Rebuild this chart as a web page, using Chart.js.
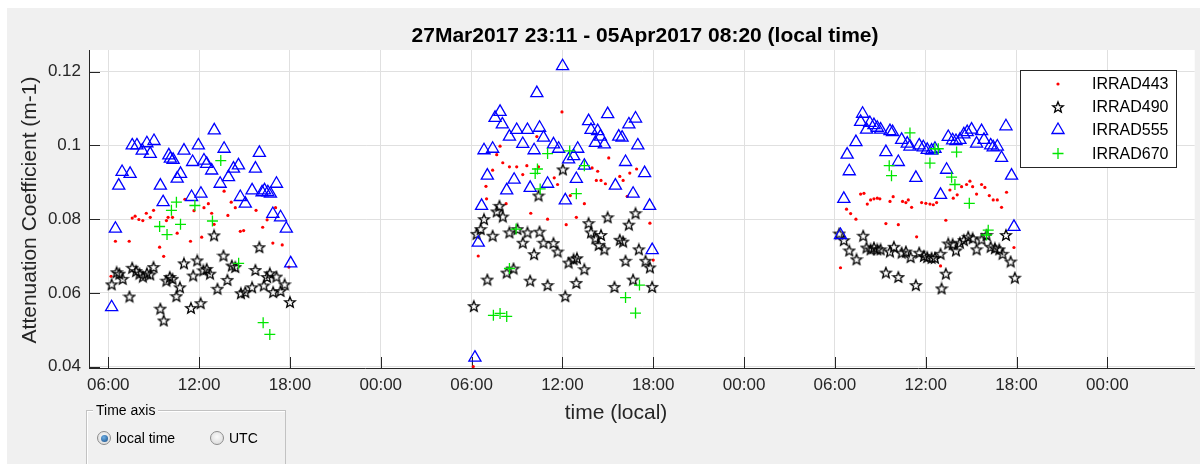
<!DOCTYPE html>
<html>
<head>
<meta charset="utf-8">
<script src="https://cdn.jsdelivr.net/npm/chart.js@4.4.1/dist/chart.umd.min.js"></script>
<style>
  html, body { margin: 0; padding: 0; background: #fff; }
  #wrap { position: relative; width: 1203px; height: 464px; overflow: hidden; }
  #chart { position: absolute; left: 0; top: 0; }
  #panel {
    position: absolute; left: 86px; top: 410px; width: 198px; height: 80px;
    border: 1px solid #c2c2c2; box-shadow: inset 1px 1px 0 #fff;
    font-family: 'Liberation Sans', Arial, sans-serif; font-size: 14px; color: #000;
  }
  #panel .cap { position: absolute; left: 6px; top: -9px; background: #f0f0f0; padding: 0 3px; line-height: 16px; }
  #panel .opt { position: absolute; top: 19px; line-height: 16px; }
  #panel .radio {
    position: absolute; top: 1px; left: 0; width: 12px; height: 12px; border-radius: 50%;
    border: 1px solid #8c8c8c; background: radial-gradient(circle at 50% 40%, #fafafa, #d6d6d6);
  }
  #panel .radio.on::after {
    content: ''; position: absolute; left: 2.5px; top: 2.5px; width: 7px; height: 7px; border-radius: 50%;
    background: radial-gradient(circle at 40% 35%, #6fb0e6, #134a85);
  }
  #panel .txt { position: absolute; left: 19px; top: 0; white-space: nowrap; }
</style>
</head>
<body>
<div id="wrap">
  <canvas id="chart" width="1203" height="464"></canvas>
  <div id="panel">
    <span class="cap">Time axis</span>
    <div class="opt" style="left:10px"><span class="radio on"></span><span class="txt">local time</span></div>
    <div class="opt" style="left:123px"><span class="radio"></span><span class="txt">UTC</span></div>
  </div>
</div>
<script>
  // hours counted from 00:00 of the first day shown
  const xTickHours = [6, 12, 18, 24, 30, 36, 42, 48, 54, 60, 66, 72];
  const yTickValues = [0.04, 0.06, 0.08, 0.1, 0.12];
  const titleText = '27Mar2017 23:11 - 05Apr2017 08:20 (local time)';
  const xLabel = 'time (local)';
  const yLabel = 'Attenuation Coefficient (m-1)';

  const irrad443 = [
    [6.18,0.0645],[6.47,0.074],[7.38,0.074],[7.58,0.0803],[7.77,0.0808],[8.02,0.0799],[8.28,0.0796],[8.51,0.0816],
    [8.77,0.0805],[8.99,0.0824],[9.39,0.0724],[9.66,0.0699],[9.84,0.0796],[9.95,0.0805],[10.24,0.0805],[10.55,0.0762],
    [11.06,0.0854],[11.43,0.074],[11.66,0.0823],[12.17,0.0751],[12.32,0.0831],[12.61,0.0842],[12.83,0.0816],[12.99,0.0786],
    [13.65,0.0876],[13.9,0.081],[14.12,0.0846],[14.39,0.0831],[14.72,0.0767],[14.94,0.0769],[15.76,0.0824],[16.2,0.0778],
    [16.49,0.0798],[16.87,0.0735],[17.05,0.0831],[17.49,0.073],[17.93,0.067],
    [30.11,0.04],[30.44,0.07],[30.95,0.0889],[30.99,0.0855],[31.39,0.0933],[31.66,0.0975],[31.88,0.0998],[32.06,0.0953],
    [32.28,0.0842],[32.5,0.0942],[32.98,0.0942],[33.38,0.0921],[33.65,0.0945],[33.91,0.0816],[34.31,0.1024],[34.42,0.0942],
    [35.02,0.08],[35.46,0.0912],[35.68,0.0894],[35.97,0.1091],[36.25,0.0785],[36.52,0.0864],[36.92,0.0805],[37.45,0.0842],
    [37.96,0.0939],[38.24,0.0905],[38.33,0.093],[38.55,0.0905],[38.84,0.0896],[39.06,0.0966],[39.79,0.0916],[40.01,0.0905],
    [40.28,0.0862],[40.45,0.0925],[40.9,0.0936],[41.78,0.0789],[42.0,0.0689],
    [54.37,0.0668],[54.77,0.0827],[55.04,0.0815],[55.39,0.08],[55.7,0.0868],[55.92,0.087],[56.14,0.0841],[56.36,0.0852],
    [56.58,0.0855],[56.8,0.0857],[56.97,0.0855],[57.37,0.0788],[57.64,0.0848],[57.85,0.0861],[58.19,0.0785],[58.47,0.0848],
    [58.69,0.0845],[58.85,0.0852],[59.07,0.0832],[59.4,0.0752],[59.73,0.0845],[60.01,0.0843],[60.28,0.0841],[60.5,0.0839],
    [60.72,0.0845],[60.98,0.0673],[61.33,0.0797],[61.6,0.0879],[61.82,0.0857],[62.08,0.0866],[62.37,0.0888],[62.7,0.0894],
    [62.92,0.0903],[63.1,0.0888],[63.36,0.0868],[63.69,0.0894],[63.91,0.0886],[64.2,0.0864],[64.46,0.0852],[64.73,0.0852],
    [65.01,0.0832],[65.34,0.0873],[65.83,0.0723]
  ];

  const irrad490 = [
    [6.22,0.0623],[6.55,0.0656],[6.73,0.0652],[6.95,0.0638],[7.4,0.059],[7.58,0.0668],[7.84,0.0659],[8.06,0.0652],
    [8.28,0.0644],[8.55,0.0653],[8.77,0.065],[8.99,0.067],[9.44,0.0557],[9.66,0.0525],[9.84,0.0633],[10.06,0.0643],
    [10.24,0.0638],[10.5,0.0591],[10.73,0.0615],[11.0,0.068],[11.46,0.0559],[11.61,0.0647],[11.88,0.0688],[12.1,0.0572],
    [12.28,0.0661],[12.5,0.0665],[12.72,0.0652],[12.99,0.0756],[13.21,0.0611],[13.61,0.0701],[13.87,0.0635],[14.16,0.0674],
    [14.39,0.067],[14.76,0.0599],[15.05,0.0602],[15.5,0.0615],[15.72,0.0662],[15.98,0.0724],[16.27,0.062],[16.49,0.0643],
    [16.67,0.0653],[16.89,0.0602],[17.11,0.0644],[17.38,0.0605],[17.65,0.0623],[18.0,0.0575],
    [30.15,0.0564],[30.33,0.076],[30.6,0.0773],[30.82,0.08],[31.04,0.0636],[31.39,0.0755],[31.66,0.0821],[31.84,0.0836],
    [32.06,0.0807],[32.32,0.0655],[32.5,0.0764],[32.77,0.0666],[33.03,0.0773],[33.38,0.0736],[33.69,0.0764],[33.87,0.0633],
    [34.13,0.0705],[34.42,0.0864],[34.49,0.0766],[34.75,0.0736],[35.02,0.0621],[35.41,0.0735],[35.68,0.0712],[36.03,0.0935],
    [36.19,0.0591],[36.41,0.0682],[36.74,0.0691],[36.92,0.0627],[36.96,0.0694],[37.45,0.0664],[37.73,0.0789],[37.89,0.0764],
    [38.18,0.0748],[38.4,0.073],[38.55,0.0757],[38.77,0.0718],[38.99,0.0805],[39.44,0.0616],[39.79,0.0744],[40.01,0.0739],
    [40.17,0.0687],[40.39,0.0785],[40.67,0.0636],[40.83,0.0816],[41.05,0.0718],[41.49,0.0687],[41.78,0.0669],[41.93,0.0616],
    [54.29,0.0761],[54.59,0.0743],[54.95,0.0715],[55.43,0.0691],[55.87,0.0755],[56.09,0.0723],[56.36,0.0718],[56.58,0.0723],
    [56.8,0.0718],[57.02,0.0718],[57.37,0.0655],[57.64,0.0712],[57.9,0.0725],[58.19,0.0643],[58.41,0.0709],[58.69,0.0712],
    [59.0,0.0697],[59.35,0.0621],[59.57,0.0709],[59.88,0.07],[60.1,0.0697],[60.39,0.0695],[60.61,0.0695],[60.98,0.0706],
    [61.05,0.0612],[61.33,0.0652],[61.49,0.0734],[61.78,0.0732],[62.0,0.0715],[62.26,0.0736],[62.52,0.0743],[62.81,0.0752],
    [63.1,0.0748],[63.36,0.0718],[63.69,0.0745],[64.02,0.0757],[64.29,0.0725],[64.57,0.0721],[64.86,0.0718],[65.08,0.0706],
    [65.3,0.0757],[65.61,0.0685],[65.89,0.0641]
  ];

  const irrad555 = [
    [6.22,0.0561],[6.47,0.0774],[6.69,0.0891],[6.91,0.0928],[7.44,0.0923],[7.58,0.1],[7.89,0.1],[8.24,0.0986],
    [8.55,0.1006],[8.77,0.0977],[9.02,0.1012],[9.44,0.0891],[9.62,0.0846],[10.0,0.0973],[10.1,0.0964],[10.28,0.0961],
    [10.55,0.091],[10.77,0.0923],[11.0,0.0986],[11.5,0.086],[11.57,0.0955],[11.95,0.1],[12.12,0.0869],[12.32,0.0959],
    [12.5,0.095],[12.83,0.0932],[13.0,0.1041],[13.39,0.0896],[13.65,0.0991],[13.94,0.0914],[14.27,0.0937],[14.6,0.0946],
    [14.72,0.086],[15.05,0.0842],[15.5,0.0878],[15.72,0.0937],[15.98,0.098],[16.16,0.0873],[16.32,0.0878],[16.54,0.0873],
    [16.71,0.0869],[16.87,0.0814],[17.11,0.0896],[17.38,0.0805],[17.76,0.0774],[18.05,0.068],
    [30.22,0.0424],[30.44,0.0736],[30.66,0.0836],[30.82,0.0987],[31.04,0.0918],[31.39,0.0991],[31.55,0.1075],[31.88,0.1091],
    [32.03,0.1057],[32.32,0.0878],[32.5,0.1024],[32.81,0.0907],[32.98,0.1042],[33.38,0.1004],[33.69,0.1042],[33.87,0.0885],
    [34.13,0.0987],[34.31,0.1142],[34.49,0.1048],[34.75,0.1021],[35.02,0.0896],[35.41,0.1003],[35.75,0.0991],[36.01,0.1215],
    [36.19,0.0851],[36.41,0.0962],[36.74,0.0971],[36.92,0.0909],[37.01,0.0991],[37.45,0.0945],[37.73,0.1066],[37.89,0.1042],
    [38.18,0.1007],[38.33,0.1039],[38.51,0.1024],[38.77,0.1003],[38.99,0.1085],[39.5,0.0891],[39.72,0.1024],[39.94,0.1021],
    [40.17,0.0955],[40.39,0.1057],[40.67,0.0869],[40.83,0.1073],[40.98,0.1],[41.43,0.0925],[41.76,0.0836],[41.93,0.0716],
    [54.37,0.0757],[54.59,0.0855],[54.81,0.0975],[54.95,0.093],[55.39,0.1009],[55.7,0.1064],[55.83,0.1086],[56.09,0.1043],
    [56.31,0.1061],[56.58,0.1055],[56.8,0.1048],[57.02,0.1043],[57.37,0.0982],[57.64,0.1039],[57.81,0.1036],[58.19,0.0955],
    [58.41,0.1015],[58.78,0.1005],[58.96,0.0997],[59.35,0.0912],[59.57,0.1],[59.84,0.0995],[60.1,0.0988],[60.39,0.0986],
    [60.61,0.0991],[60.98,0.0866],[61.38,0.0934],[61.49,0.1023],[61.78,0.1014],[62.0,0.1012],[62.26,0.1015],[62.52,0.103],
    [62.74,0.1036],[63.03,0.1043],[63.36,0.1005],[63.69,0.1039],[63.85,0.1015],[64.29,0.1],[64.46,0.0995],[64.73,0.0997],
    [65.01,0.0966],[65.3,0.1052],[65.67,0.0918],[65.83,0.0779]
  ];

  const irrad670 = [
    [9.39,0.078],[9.88,0.0758],[10.17,0.0824],[10.5,0.0846],[10.77,0.0786],[11.72,0.0837],[12.88,0.0795],[13.43,0.0959],
    [14.61,0.068],[16.23,0.0519],[16.67,0.0487],
    [31.44,0.0539],[31.88,0.0544],[32.32,0.0536],[32.5,0.0666],[32.94,0.0773],[34.2,0.0924],[34.35,0.0936],[34.53,0.0882],
    [35.02,0.0978],[36.48,0.0985],[36.92,0.0869],[37.45,0.0945],[40.17,0.0587],[40.83,0.0545],[41.09,0.0621],
    [57.59,0.0945],[57.74,0.0918],[58.96,0.1034],[60.28,0.0952],[60.61,0.0991],[60.83,0.0991],[61.71,0.0914],[61.93,0.0894],
    [62.04,0.0982],[62.88,0.0843],[64.02,0.0757],[64.13,0.077]
  ];

  const FONT = "'Liberation Sans', Arial, sans-serif";
  const toPoints = rows => rows.map(r => ({ x: r[0], y: r[1] }));

  function makeStar() {
    const c = document.createElement('canvas');
    c.width = 14; c.height = 14;
    const g = c.getContext('2d');
    g.beginPath();
    for (let i = 0; i < 10; i++) {
      const r = i % 2 === 0 ? 5.6 : 2.4;
      const a = -Math.PI / 2 + i * Math.PI / 5;
      const px = 7 + r * Math.cos(a), py = 7.5 + r * Math.sin(a);
      if (i === 0) g.moveTo(px, py); else g.lineTo(px, py);
    }
    g.closePath();
    g.strokeStyle = '#000';
    g.lineWidth = 1.3;
    g.stroke();
    return c;
  }
  const starImg = makeStar();

  const datasets = [
    { label: 'IRRAD443', data: toPoints(irrad443), pointStyle: 'circle', pointRadius: 1.6,
      backgroundColor: '#ff0000', borderColor: '#ff0000', borderWidth: 0, order: 3 },
    { label: 'IRRAD490', data: toPoints(irrad490), pointStyle: starImg, pointRadius: 5,
      backgroundColor: '#000', borderColor: '#000', borderWidth: 1, order: 2 },
    { label: 'IRRAD555', data: toPoints(irrad555), pointStyle: 'triangle', pointRadius: 7,
      backgroundColor: 'rgba(0,0,0,0)', borderColor: '#0000ff', borderWidth: 1.3, order: 1 },
    { label: 'IRRAD670', data: toPoints(irrad670), pointStyle: 'cross', pointRadius: 5.5,
      backgroundColor: '#00ff00', borderColor: '#00e600', borderWidth: 1.3, order: 0 }
  ];

  function drawMarker(ctx, ds, x, y) {
    ctx.save();
    ctx.strokeStyle = ds.borderColor;
    ctx.fillStyle = ds.backgroundColor;
    ctx.lineWidth = ds.borderWidth;
    if (Chart.helpers && Chart.helpers.drawPoint) {
      Chart.helpers.drawPoint(ctx, { pointStyle: ds.pointStyle, radius: ds.pointRadius,
        borderWidth: ds.borderWidth, rotation: 0 }, x, y);
    }
    ctx.restore();
  }

  const decor = {
    id: 'decor',
    beforeDraw(chart) {
      const { ctx, chartArea: a } = chart;
      ctx.save();
      ctx.fillStyle = '#fff';
      ctx.fillRect(0, 0, chart.width, chart.height);
      ctx.fillStyle = '#f0f0f0';
      ctx.fillRect(7, 8, chart.width - 10, chart.height - 8);
      ctx.fillStyle = '#fff';
      ctx.fillRect(a.left, a.top, a.right - a.left, a.bottom - a.top);
      ctx.restore();
    },
    beforeDatasetsDraw(chart) {
      // inward tick marks, MATLAB style
      const { ctx, chartArea: a, scales } = chart;
      ctx.save();
      ctx.strokeStyle = '#262626';
      ctx.lineWidth = 1;
      ctx.beginPath();
      xTickHours.forEach(h => {
        const px = Math.round(scales.x.getPixelForValue(h)) + 0.5;
        ctx.moveTo(px, a.bottom); ctx.lineTo(px, a.bottom - 11);
      });
      yTickValues.forEach(v => {
        const py = Math.round(scales.y.getPixelForValue(v)) + 0.5;
        ctx.moveTo(a.left, py); ctx.lineTo(a.left + 11, py);
      });
      ctx.stroke();
      ctx.restore();
    },
    afterDraw(chart) {
      const { ctx } = chart;
      ctx.save();
      // title and axis labels
      ctx.fillStyle = '#000';
      ctx.textAlign = 'center';
      ctx.textBaseline = 'middle';
      ctx.font = 'bold 21px ' + FONT;
      ctx.fillText(titleText, 645, 36);
      ctx.fillStyle = '#262626';
      ctx.font = '21px ' + FONT;
      ctx.fillText(xLabel, 616, 413);
      ctx.translate(30, 210);
      ctx.rotate(-Math.PI / 2);
      ctx.fillText(yLabel, 0, 0);
      ctx.restore();

      // legend box
      ctx.save();
      ctx.fillStyle = '#fff';
      ctx.fillRect(1020.5, 70.5, 156, 97);
      ctx.strokeStyle = '#262626';
      ctx.lineWidth = 1;
      ctx.strokeRect(1020.5, 70.5, 156, 97);
      const rows = [84, 107, 130, 153.5];
      ctx.font = '16px ' + FONT;
      ctx.textAlign = 'left';
      ctx.textBaseline = 'middle';
      chart.data.datasets.forEach((ds, i) => {
        drawMarker(ctx, ds, 1058, rows[i]);
        ctx.fillStyle = '#000';
        ctx.fillText(ds.label, 1092, rows[i] + 1);
      });
      ctx.restore();
    }
  };

  new Chart(document.getElementById('chart'), {
    type: 'scatter',
    data: { datasets: datasets },
    options: {
      responsive: false,
      animation: false,
      events: [],
      layout: { padding: { top: 50, right: 8, left: 0, bottom: 0 } },
      plugins: { legend: { display: false }, tooltip: { enabled: false }, title: { display: false } },
      scales: {
        x: {
          type: 'linear', min: 4.725, max: 77.77,
          afterFit(s) { s.height = 96; },
          afterBuildTicks(s) { s.ticks = xTickHours.map(v => ({ value: v })); },
          ticks: {
            padding: 7, color: '#262626', font: { family: FONT, size: 17 },
            callback: v => String(v % 24).padStart(2, '0') + ':00'
          },
          grid: { color: '#e0e0e0', drawTicks: false },
          border: { color: '#262626', width: 1 }
        },
        y: {
          min: 0.0396, max: 0.1259,
          afterFit(s) { s.width = 89; },
          afterBuildTicks(s) { s.ticks = yTickValues.map(v => ({ value: v })); },
          ticks: {
            padding: 8, color: '#262626', font: { family: FONT, size: 17 },
            callback: v => String(+v.toFixed(2))
          },
          grid: { color: '#e0e0e0', drawTicks: false },
          border: { color: '#262626', width: 1 }
        }
      }
    },
    plugins: [decor]
  });
</script>
</body>
</html>
